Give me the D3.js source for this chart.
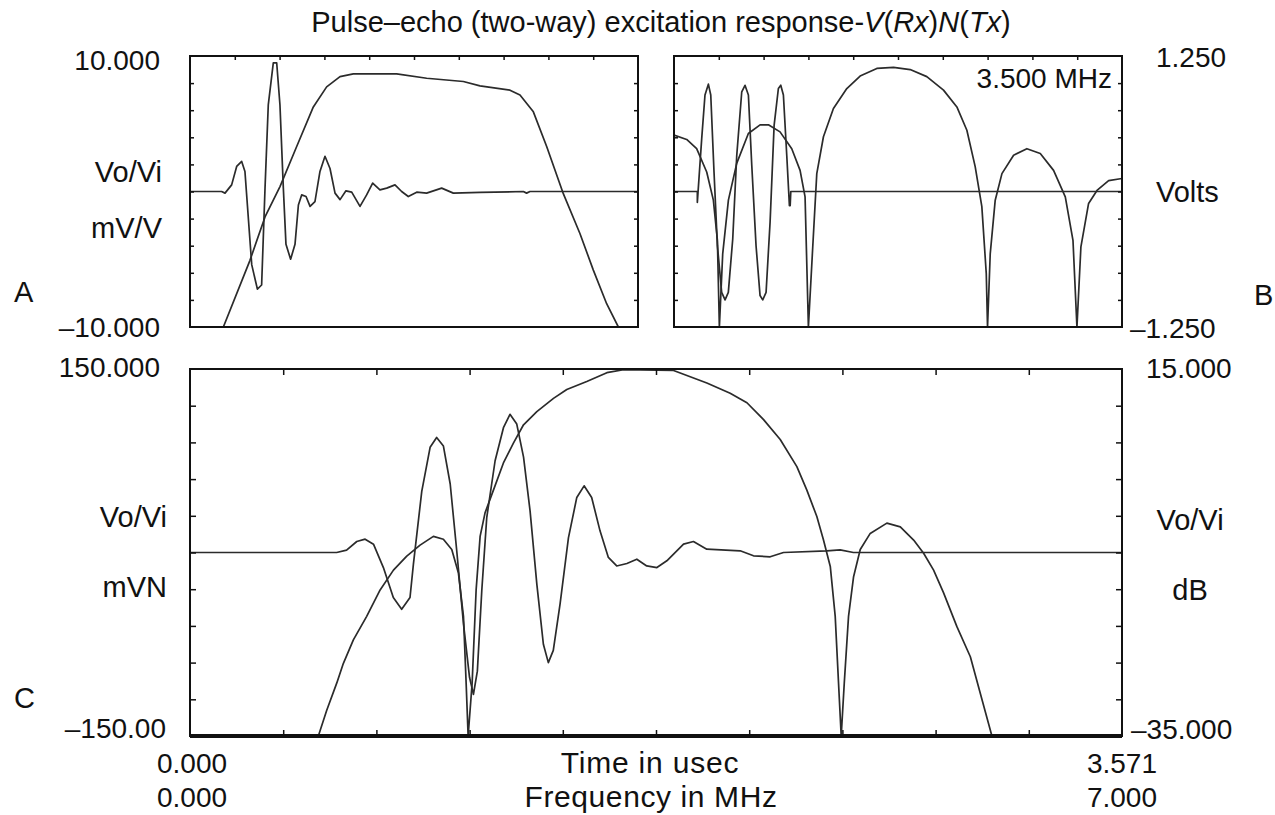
<!DOCTYPE html>
<html>
<head>
<meta charset="utf-8">
<script src="https://cdn.jsdelivr.net/npm/d3@7"></script>
<style>
body{margin:0;background:#fff;}
svg text{font-family:"Liberation Sans",Arial,Helvetica,sans-serif;fill:#111;}
.frame{fill:none;stroke:#111;stroke-width:2;}
.trace{fill:none;stroke:#2b2b2b;stroke-width:1.7;stroke-linejoin:round;}
.tick line{stroke:#111;stroke-width:1.5;}
</style>
</head>
<body>
<svg width="1275" height="815"></svg>
<script>
// ---- panel A : impulse response (mV/V) and its spectrum (dB)
var timeA = [0,0.252,0.279,0.332,0.372,0.412,0.438,0.492,0.537,0.571,0.598,0.624,0.664,0.691,0.717,0.744,0.765,0.802,0.837,0.864,0.890,0.925,0.957,0.996,1.036,1.076,1.116,1.156,1.196,1.243,1.289,1.355,1.408,1.456,1.514,1.568,1.634,1.687,1.740,1.807,1.886,2.006,2.099,2.312,2.657,2.683,2.710,3.571];
var voltsA = [0,0,-0.12,0.49,1.85,2.22,1.48,-5.4,-7.2,-6.9,0.25,6.4,9.5,9.5,6.4,0.25,-3.9,-5.0,-3.9,-1.0,-0.25,-0.37,-1.1,-0.74,1.48,2.6,1.7,-0.12,-0.6,0.05,-0.05,-1.1,-0.25,0.62,0.12,0.25,0.49,0,-0.37,-0.05,-0.12,0.25,-0.12,-0.07,0,-0.12,0,0];
var freqA = [0.521,0.937,1.172,1.406,1.667,1.927,2.135,2.344,2.552,3.229,3.698,4.271,4.531,5.0,5.156,5.365,5.573,5.833,6.094,6.302,6.51,6.693];
var dbA = [-35,-22.7,-14.7,-9.1,-1.7,5.6,9.3,11.2,11.7,11.7,10.9,10.3,9.5,8.7,7.8,4.7,-1.7,-10.4,-17.8,-24.5,-30.7,-35];

// ---- panel B : 3.5 MHz tone burst (Volts) and its spectrum (dB)
var timeB = [0,0.186,0.186,0.221,0.247,0.274,0.293,0.319,0.346,0.380,0.407,0.433,0.468,0.500,0.540,0.566,0.593,0.620,0.654,0.686,0.707,0.734,0.766,0.798,0.832,0.851,0.872,0.899,0.920,0.926,0.931,3.571];
var voltsB = [0,0,-0.10,0.49,0.89,0.99,0.89,0.18,-0.5,-0.93,-1.0,-0.93,-0.44,0.33,0.92,0.98,0.89,0.24,-0.5,-0.96,-1.0,-0.93,-0.28,0.61,0.95,0.98,0.89,0.33,-0.13,-0.13,0,0];
var freqB = [0,0.198,0.354,0.511,0.615,0.678,0.709,0.761,0.850,0.980,1.162,1.345,1.475,1.657,1.840,1.970,2.048,2.100,2.168,2.231,2.335,2.491,2.700,2.908,3.169,3.430,3.690,3.950,4.211,4.420,4.576,4.706,4.81,4.879,4.899,4.941,5.019,5.124,5.306,5.514,5.723,5.931,6.114,6.234,6.296,6.358,6.478,6.609,6.791,7.0];
var dbB = [0.4,-0.4,-2.1,-6.4,-11.6,-19,-35,-21.5,-11.6,-4.8,0.7,2.3,2.3,1.0,-2.1,-6.1,-11,-35,-20.2,-6.7,0.1,5.3,9.0,11.3,12.7,12.9,12.5,11.2,8.7,5.6,1.3,-5.4,-12.8,-25.1,-35,-21.5,-11.6,-6.7,-3.3,-2.1,-3,-6.1,-11,-19,-35,-20.2,-12.2,-9.8,-8.0,-7.6];

// ---- panel C : pulse-echo response (mV/V) and its spectrum (dB)
var timeC = [0,0.562,0.600,0.639,0.671,0.703,0.741,0.779,0.811,0.843,0.856,0.888,0.920,0.945,0.971,0.997,1.022,1.048,1.071,1.086,1.101,1.118,1.137,1.169,1.201,1.226,1.252,1.278,1.303,1.329,1.354,1.373,1.392,1.418,1.450,1.482,1.510,1.539,1.571,1.603,1.635,1.674,1.712,1.750,1.789,1.827,1.891,1.929,1.980,2.108,2.159,2.223,2.274,2.440,2.491,2.542,3.571];
var mvC = [0,0,1.9,9.0,10.9,6.8,-12.3,-36.8,-46.4,-36.8,-9.5,50,86,94,87,56,1.4,-58.6,-102,-116,-97,-31,28.6,75,102,113,105,78,34,-26,-75,-90,-80,-42,12,45,54.5,45,17.7,-4,-11,-9,-5.5,-11,-12.3,-6.8,6.8,9,2.7,1.4,-2.7,-3.5,0,1.4,2.2,0,0];
var freqC = [0.964,1.027,1.102,1.152,1.227,1.327,1.428,1.528,1.628,1.728,1.828,1.903,1.966,2.016,2.054,2.074,2.089,2.119,2.149,2.179,2.216,2.279,2.354,2.429,2.505,2.605,2.730,2.830,2.980,3.131,3.256,3.632,3.882,4.057,4.183,4.308,4.433,4.558,4.633,4.708,4.758,4.809,4.846,4.871,4.891,4.914,4.946,4.984,5.034,5.109,5.234,5.335,5.435,5.510,5.585,5.660,5.760,5.861,5.936,6.023];
var dbC = [-35,-31.5,-27.8,-25.1,-21.9,-18.7,-15.1,-12.4,-10.5,-9.0,-7.8,-8.2,-9.6,-12.8,-18.7,-27.8,-35,-27.8,-15.1,-7.8,-4.6,-1.5,2.2,4.9,7.4,9.2,11.0,12.2,13.3,14.5,14.9,14.8,13.1,11.7,10.4,8.1,5.4,1.7,-1.5,-5.1,-8.3,-11.9,-18.7,-27.8,-35,-27.8,-18.7,-13.3,-9.6,-7.4,-6.0,-6.5,-8.3,-10.1,-12.4,-15.5,-20.1,-24.2,-29.2,-35];

// axis labels
var timeRange = [0, 3.571], freqRange = [0, 7];
var leftA = ['10.000','Vo/Vi','mV/V','–10.000'];
var rightB = ['1.250','Volts','–1.250'];
var leftC = ['150.000','Vo/Vi','mVN','–150.00'];
var rightC = ['15.000','Vo/Vi','dB','–35.000'];

var svg = d3.select('svg');

function zip(xs, ys){ return xs.map(function(x,i){ return [x, ys[i]]; }); }

function panel(id, box, yDom, yDb, series, sides){
    var g = svg.append('g');
    var xT = d3.scaleLinear().domain(timeRange).range([box.x0, box.x1]);
    var xF = d3.scaleLinear().domain(freqRange).range([box.x0, box.x1]);
    var y = d3.scaleLinear().domain(yDom).range([box.y1, box.y0]);
    var yD = d3.scaleLinear().domain(yDb).range([box.y1, box.y0]);

    g.append('clipPath').attr('id','clip'+id)
        .append('rect')
        .attr('x',box.x0).attr('y',box.y0)
        .attr('width',box.x1-box.x0).attr('height',box.y1-box.y0);

    var plot = g.append('g').attr('clip-path','url(#clip'+id+')');
    plot.append('path').datum(zip(series.f, series.db))
        .attr('class','trace')
        .attr('d', d3.line().x(function(d){return xF(d[0]);}).y(function(d){return yD(d[1]);}));
    plot.append('path').datum(zip(series.t, series.v))
        .attr('class','trace')
        .attr('d', d3.line().x(function(d){return xT(d[0]);}).y(function(d){return y(d[1]);}));

    // inward tick marks, 10 divisions each way
    var tl = box.tick;
    var xs = d3.scaleLinear().domain([0,10]).range([box.x0, box.x1]);
    var ys = d3.scaleLinear().domain([0,10]).range([box.y1, box.y0]);
    var inner = d3.range(1,10);
    if(sides.indexOf('top')>=0)
        g.append('g').attr('transform','translate(0,'+box.y0+')')
            .call(d3.axisBottom(xs).tickValues(inner).tickSize(tl).tickFormat(''));
    if(sides.indexOf('bottom')>=0)
        g.append('g').attr('transform','translate(0,'+box.y1+')')
            .call(d3.axisTop(xs).tickValues(inner).tickSize(tl).tickFormat(''));
    if(sides.indexOf('left')>=0)
        g.append('g').attr('transform','translate('+box.x0+',0)')
            .call(d3.axisRight(ys).tickValues(inner).tickSize(tl).tickFormat(''));
    if(sides.indexOf('right')>=0)
        g.append('g').attr('transform','translate('+box.x1+',0)')
            .call(d3.axisLeft(ys).tickValues(inner).tickSize(tl).tickFormat(''));
    g.selectAll('.domain').remove();

    g.append('rect').attr('class','frame')
        .attr('x',box.x0).attr('y',box.y0)
        .attr('width',box.x1-box.x0).attr('height',box.y1-box.y0);
    return g;
}

var boxA = {x0:190, x1:638, y0:56, y1:327, tick:4};
var boxB = {x0:674, x1:1122, y0:56, y1:327, tick:4};
var boxC = {x0:190, x1:1122, y0:369, y1:736, tick:6};

panel('A', boxA, [-10,10], [-35,15], {t:timeA, v:voltsA, f:freqA, db:dbA}, ['top','left','right']);
panel('B', boxB, [-1.25,1.25], [-35,15], {t:timeB, v:voltsB, f:freqB, db:dbB}, ['top','left','right']);
panel('C', boxC, [-150,150], [-35,15], {t:timeC, v:mvC, f:freqC, db:dbC}, ['top','bottom','left','right']);

// heavy bottom edge of C
svg.append('line').attr('x1',boxC.x0).attr('x2',boxC.x1).attr('y1',boxC.y1).attr('y2',boxC.y1)
    .attr('stroke','#111').attr('stroke-width',4);

function label(txt, x, y, anchor, size, spacing){
    var t = svg.append('text').text(txt)
        .attr('x',x).attr('y',y)
        .attr('text-anchor',anchor||'start')
        .style('font-size',(size||28)+'px');
    if(spacing) t.style('letter-spacing',spacing+'px');
    return t;
}

// title with italic parts
var title = svg.append('text').attr('x',661).attr('y',32).attr('text-anchor','middle').style('font-size','29px');
[['Pulse–echo (two-way) excitation response-',0],['V',1],['(',0],['Rx',1],[')',0],['N',1],['(',0],['Tx',1],[')',0]]
    .forEach(function(p){
        title.append('tspan').text(p[0]).style('font-style',p[1]?'italic':'normal');
    });

label(leftA[0],160,70,'end');
label(leftA[1],162,182,'end',29);
label(leftA[2],162,238,'end',29);
label(leftA[3],160,337,'end');
label('A',14,302,'start',29);

label(rightB[0],1156,67,'start');
label(rightB[1],1156,202,'start',29);
label(rightB[2],1130,338,'start');
label('B',1254,305,'start',29);
label('3.500 MHz',1112,88,'end',28);

label(leftC[0],160,377,'end');
label(leftC[1],167,527,'end',29);
label(leftC[2],167,597,'end',29);
label(leftC[3],166,738,'end');
label('C',14,708,'start',29);

label(rightC[0],1146,378,'start');
label(rightC[1],1190,530,'middle',29);
label(rightC[2],1190,600,'middle',29);
label(rightC[3],1131,739,'start');

label('0.000',157,773,'start');
label('0.000',157,807,'start');
label('Time in usec',650,773,'middle',30,0.8);
label('Frequency in MHz',651,807,'middle',30,0.6);
label(timeRange[1].toFixed(3),1157,773,'end');
label(freqRange[1].toFixed(3),1157,807,'end');
</script>
</body>
</html>
